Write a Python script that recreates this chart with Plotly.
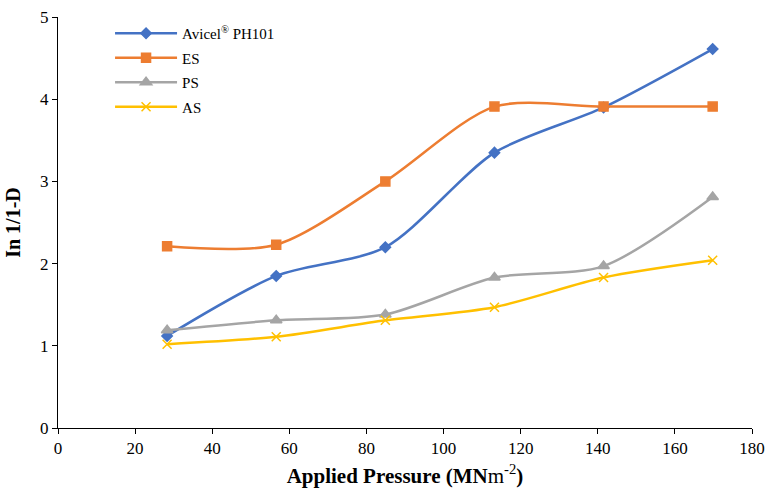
import plotly.graph_objects as go

pressure = [28.3, 56.6, 84.9, 113.2, 141.5, 169.8]
avicel = [1.12, 1.85, 2.20, 3.35, 3.90, 4.61]
es = [2.21, 2.23, 3.00, 3.91, 3.91, 3.91]
ps = [1.19, 1.31, 1.38, 1.83, 1.97, 2.81]
as_ = [1.02, 1.11, 1.31, 1.47, 1.83, 2.04]

series = [
    ("Avicel<sup>®</sup> PH101", avicel, "#4472C4", "diamond", 8),
    ("ES", es, "#ED7D31", "square", 9),
    ("PS", ps, "#A5A5A5", "triangle-up", 10),
    ("AS", as_, "#FFC000", "x-thin", 9),
]

fig = go.Figure()
for i, (name, vals, color, sym, size) in enumerate(series):
    fig.add_trace(go.Scatter(
        x=pressure, y=vals, name=name, mode="lines+markers",
        legendgroup=f"g{i}",
        line=dict(color=color, width=2.5, shape="spline", smoothing=0.8),
        marker=dict(symbol=sym, size=size, color=color,
                    line=dict(color=color, width=1.5)),
    ))

font = "Liberation Serif, Times New Roman, serif"
fig.update_layout(
    width=769, height=488,
    margin=dict(l=58, r=17, t=17, b=60),
    paper_bgcolor="white", plot_bgcolor="white",
    font=dict(family=font, color="black", size=17),
    showlegend=True,
    legend=dict(x=0.075, y=1.0, xanchor="left", yanchor="top",
                font=dict(family=font, size=15, color="black"),
                bgcolor="rgba(0,0,0,0)", tracegroupgap=2, itemwidth=62,
                traceorder="grouped"),
    xaxis=dict(range=[0, 180], dtick=20, showgrid=False, zeroline=False,
               showline=True, linecolor="black", linewidth=1,
               ticks="outside", ticklen=5, tickcolor="black",
               tickfont=dict(size=17), automargin=False,
               title=dict(text="<b>Applied Pressure (MN</b>m<sup>-2</sup><b>)</b>",
                          font=dict(size=21), standoff=12)),
    yaxis=dict(range=[0, 5], dtick=1, showgrid=False, zeroline=False,
               showline=True, linecolor="black", linewidth=1,
               ticks="outside", ticklen=5, tickcolor="black",
               tickfont=dict(size=17), automargin=False,
               title=dict(text="<b>In 1/1-D</b>", font=dict(size=20), standoff=14)),
)

fig.write_html("out.html")
